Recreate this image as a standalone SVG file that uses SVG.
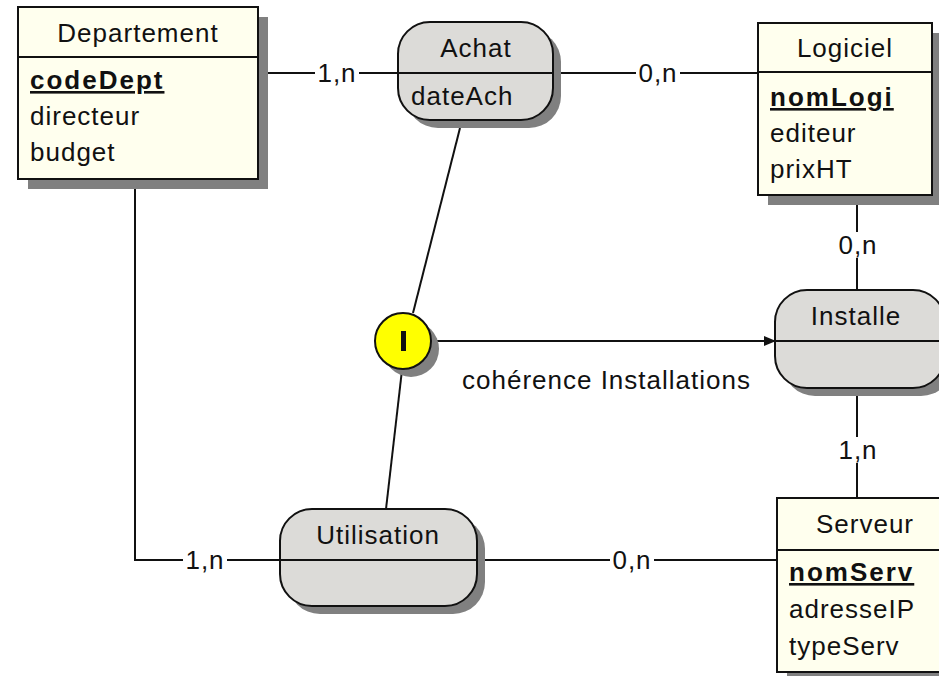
<svg xmlns="http://www.w3.org/2000/svg" width="939" height="676" viewBox="0 0 939 676">
<style>
text{font-family:"Liberation Sans",Arial,sans-serif;font-size:26px;fill:#111;letter-spacing:1px}
.ent{fill:#ffffee;stroke:#111;stroke-width:2}
.asso{fill:#dcdbd8;stroke:#111;stroke-width:2}
.sh{fill:#808080}
.ln{stroke:#111;stroke-width:2;fill:none}
.key{font-weight:bold;text-decoration:underline;letter-spacing:2px}
.lbl{fill:#fff}
</style>
<defs>
<marker id="arr" markerWidth="12" markerHeight="12" refX="11" refY="6" orient="auto" markerUnits="userSpaceOnUse">
<path d="M0,1 L12,6 L0,11 Z" fill="#111"/>
</marker>
</defs>
<rect width="939" height="676" fill="#fff"/>
<g id="connectors">
<line class="ln" x1="258" y1="73" x2="398" y2="73"/>
<line class="ln" x1="553" y1="73" x2="758" y2="73"/>
<line class="ln" x1="857" y1="195" x2="857" y2="290"/>
<line class="ln" x1="857" y1="388" x2="857" y2="498"/>
<polyline class="ln" points="135,179 135,560 280,560"/>
<line class="ln" x1="477" y1="560" x2="777" y2="560"/>
<line class="ln" x1="460" y1="128" x2="413" y2="313"/>
<line class="ln" x1="402" y1="370" x2="386" y2="509"/>
<line class="ln" x1="432" y1="341" x2="775" y2="341" marker-end="url(#arr)"/>
<rect class="lbl" x="315" y="60" width="44" height="26"/>
<text x="337" y="82" text-anchor="middle">1,n</text>
<rect class="lbl" x="636" y="60" width="44" height="26"/>
<text x="658" y="82" text-anchor="middle">0,n</text>
<rect class="lbl" x="835" y="232" width="44" height="26"/>
<text x="858" y="254" text-anchor="middle">0,n</text>
<rect class="lbl" x="835" y="437" width="44" height="26"/>
<text x="858" y="459" text-anchor="middle">1,n</text>
<rect class="lbl" x="183" y="547" width="44" height="26"/>
<text x="205" y="569" text-anchor="middle">1,n</text>
<rect class="lbl" x="610" y="547" width="44" height="26"/>
<text x="632" y="569" text-anchor="middle">0,n</text>
<text x="462" y="389">cohérence Installations</text>
</g>
<g id="Departement">
<rect class="sh" x="28" y="17" width="240" height="172"/>
<rect class="ent" x="18" y="7" width="240" height="172"/>
<line class="ln" x1="18" y1="57" x2="258" y2="57"/>
<text x="138" y="42" text-anchor="middle">Departement</text>
<text class="key" x="30" y="89">codeDept</text>
<text x="30" y="125">directeur</text>
<text x="30" y="161">budget</text>
</g>
<g id="Logiciel">
<rect class="sh" x="768" y="33" width="174" height="172"/>
<rect class="ent" x="758" y="23" width="174" height="172"/>
<line class="ln" x1="758" y1="72" x2="932" y2="72"/>
<text x="845" y="57" text-anchor="middle">Logiciel</text>
<text class="key" x="770" y="106">nomLogi</text>
<text x="770" y="142">editeur</text>
<text x="770" y="178">prixHT</text>
</g>
<g id="Serveur">
<rect class="sh" x="787" y="508" width="174" height="174"/>
<rect class="ent" x="777" y="498" width="174" height="174"/>
<line class="ln" x1="777" y1="550" x2="951" y2="550"/>
<text x="865" y="533" text-anchor="middle">Serveur</text>
<text class="key" x="789" y="581">nomServ</text>
<text x="789" y="618">adresseIP</text>
<text x="789" y="655">typeServ</text>
</g>
<g id="Achat">
<rect class="sh" x="406" y="30" width="155" height="98" rx="32" ry="32"/>
<rect class="asso" x="398" y="22" width="155" height="98" rx="32" ry="32"/>
<line class="ln" x1="398" y1="73" x2="553" y2="73"/>
<text x="476" y="57" text-anchor="middle">Achat</text>
<text x="411" y="105">dateAch</text>
</g>
<g id="Installe">
<rect class="sh" x="783" y="298" width="170" height="98" rx="32" ry="32"/>
<rect class="asso" x="775" y="290" width="170" height="98" rx="32" ry="32"/>
<line class="ln" x1="775" y1="341" x2="945" y2="341"/>
<text x="856" y="325" text-anchor="middle">Installe</text>
</g>
<g id="Utilisation">
<rect class="sh" x="288" y="517" width="197" height="97" rx="32" ry="32"/>
<rect class="asso" x="280" y="509" width="197" height="97" rx="32" ry="32"/>
<line class="ln" x1="280" y1="560" x2="477" y2="560"/>
<text x="378" y="544" text-anchor="middle">Utilisation</text>
</g>
<g id="contrainte">
<circle class="sh" cx="411" cy="349" r="28"/>
<circle cx="403" cy="341" r="28" fill="#ffff00" stroke="#111" stroke-width="2"/>
<rect x="401" y="331" width="5" height="20" fill="#111"/>
</g>
</svg>
